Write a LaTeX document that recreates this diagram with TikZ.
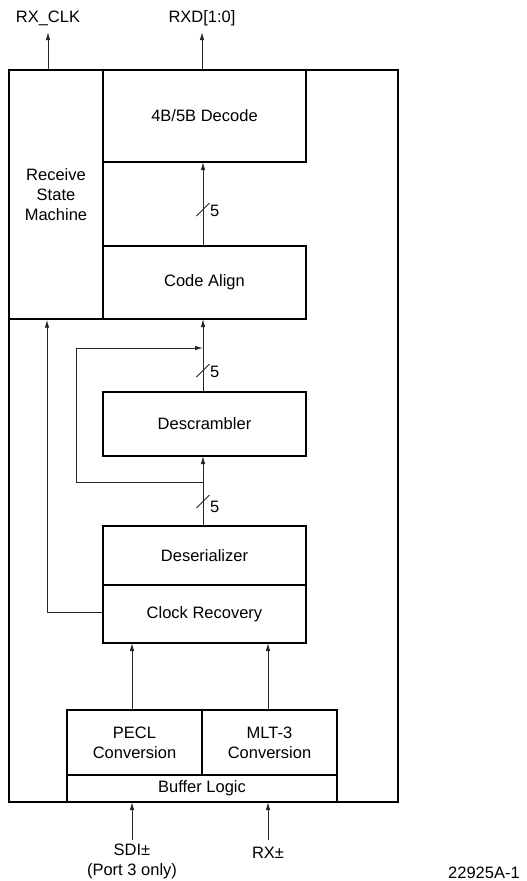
\documentclass[tikz,border=0pt]{standalone}
\usepackage{fontspec}
\setmainfont{Liberation Sans}
\usetikzlibrary{arrows.meta}
\begin{document}
\begin{tikzpicture}[x=1pt,y=-1pt,
  font=\fontsize{16.5}{20}\selectfont,
  blk/.style={draw=black, line width=1.4pt, inner sep=0pt, anchor=center, align=center},
  arr/.style={draw=black!85, line width=0.9pt, -{Latex[length=8pt,width=4.5pt]}},
  wire/.style={draw=black!85, line width=0.9pt},
  lbl/.style={inner sep=0pt, align=center}]
\useasboundingbox (0,0) rectangle (527,881);
% outer chip
\node[blk, minimum width=389pt, minimum height=732pt] (chip) at (203.5,436) {};
% blocks
\node[blk, minimum width=94pt, minimum height=249pt] (rsm) at (56,194.5) {Receive\\State\\Machine};
\node[blk, minimum width=203pt, minimum height=92pt] (dec) at (204.5,116) {4B/5B Decode};
\node[blk, minimum width=203pt, minimum height=73pt] (ca) at (204.5,282.5) {Code Align};
\node[blk, minimum width=203pt, minimum height=64pt] (des) at (204.5,424) {Descrambler};
\node[blk, minimum width=203pt, minimum height=59pt] (ser) at (204.5,555.5) {Deserializer};
\node[blk, minimum width=203pt, minimum height=58pt] (cr) at (204.5,614) {Clock Recovery};
\node[blk, minimum width=135pt, minimum height=65pt] (pecl) at (134.5,742.5) {PECL\\Conversion};
\node[blk, minimum width=135pt, minimum height=65pt] (mlt) at (269.5,742.5) {MLT-3\\Conversion};
\node[blk, minimum width=270pt, minimum height=27pt] (buf) at (202,788.5) {Buffer Logic};
% outputs
\node[lbl] (rxclk) at (48,18) {RX\_CLK};
\node[lbl] (rxd) at (202,18) {RXD[1:0]};
\coordinate (rxclkt) at (48,32);
\coordinate (rxdt) at (202,32);
\draw[arr] (rxclkt |- chip.north) -- (rxclkt);
\draw[arr] (rxdt |- chip.north) -- (rxdt);
% code align -> decode
\draw[arr] (203,246) coordinate (caN) -- (203,162) coordinate (decS);
\draw[wire] (196.5,216) -- (209.5,203);
\node[lbl, anchor=west] (n1) at (210,211) {5};
% descrambler -> code align
\coordinate (desN) at (203,392);
\coordinate (caS) at (203,319);
\draw[arr] (desN) -- (caS);
\draw[wire] (196.5,377) -- (209.5,364);
\node[lbl, anchor=west] (n2) at (210,372) {5};
% deserializer -> descrambler
\coordinate (serN) at (203,526);
\coordinate (desS) at (203,456);
\draw[arr] (serN) -- (desS);
\draw[wire] (196.5,508) -- (209.5,495);
\node[lbl, anchor=west] (n3) at (210,507) {5};
% bypass feedback
\coordinate (fbA) at (203,482);
\coordinate (fbB) at (76,482);
\coordinate (fbC) at (76,348);
\coordinate (fbD) at (203,348);
\draw[arr] (fbA) -- (fbB) -- (fbC) -- (fbD);
% clock recovery -> RSM
\coordinate (ck) at (47,612);
\draw[arr] (cr.west |- ck) -- (ck) -- (ck |- rsm.south);
% conversion -> clock recovery
\draw[arr] (132,710) -- (132,643);
\draw[arr] (268,710) -- (268,643);
% inputs
\node[lbl] (sdi) at (132,861) {SDI±\\(Port 3 only)};
\node[lbl] (rx) at (268,853) {RX±};
\draw[arr] (132,840) -- (132,802);
\draw[arr] (268,840) -- (268,802);
\node[lbl] (fig) at (484,873) {22925A-1};
\end{tikzpicture}
\end{document}
